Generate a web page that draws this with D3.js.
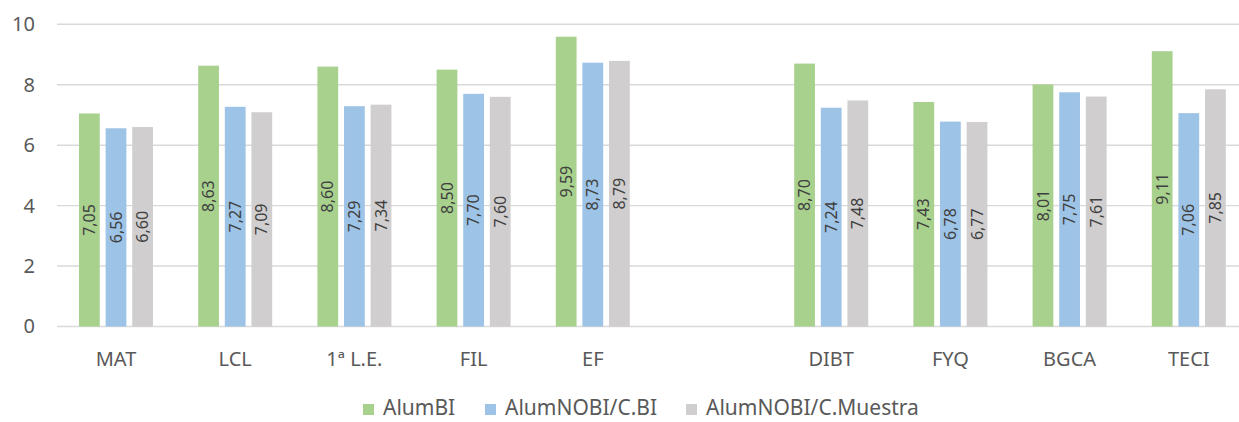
<!DOCTYPE html>
<html>
<head>
<meta charset="utf-8">
<script src="https://cdn.jsdelivr.net/npm/d3@7"></script>
<style>
html,body{margin:0;padding:0;background:#fff;}
svg{display:block;font-family:"Noto Sans","Open Sans",sans-serif;}
</style>
</head>
<body>
<svg id="chart" width="1239" height="422"></svg>
<script>
const categories = ["MAT","LCL","1ª L.E.","FIL","EF","","DIBT","FYQ","BGCA","TECI"];
const seriesNames = ["AlumBI","AlumNOBI/C.BI","AlumNOBI/C.Muestra"];
const alumBI = [7.05,8.63,8.60,8.50,9.59,null,8.70,7.43,8.01,9.11];
const alumNOBI_CBI = [6.56,7.27,7.29,7.70,8.73,null,7.24,6.78,7.75,7.06];
const alumNOBI_CMuestra = [6.60,7.09,7.34,7.60,8.79,null,7.48,6.77,7.61,7.85];
const yTicks = [0,2,4,6,8,10];
const colors = ["#A9D18E","#9DC3E6","#D0CECE"];

const series = [alumBI, alumNOBI_CBI, alumNOBI_CMuestra];
const svg = d3.select("#chart");

const x0 = d3.scaleBand().domain(categories).range([56.4, 1248.4]).paddingInner(0).paddingOuter(0);
const groupW = 74;
const x1 = d3.scaleBand().domain(seriesNames).range([0, groupW]).paddingInner(0.22).paddingOuter(0);
const y = d3.scaleLinear().domain([0,10]).range([326.5, 24.3]);

// gridlines
svg.append("g").selectAll("line").data(yTicks).join("line")
  .attr("x1", 57).attr("x2", 1239)
  .attr("y1", d => y(d)).attr("y2", d => y(d))
  .attr("stroke", "#D9D9D9").attr("stroke-width", 1.4);

// y axis labels
const yAxis = d3.axisLeft(y).tickValues(yTicks).tickSize(0).tickPadding(0).tickFormat(d3.format("d"));
const ya = svg.append("g").attr("transform", "translate(35,0)").call(yAxis);
ya.select(".domain").remove();
ya.selectAll("text").attr("font-size", 20).attr("fill", "#595959")
  .attr("font-family", '"Noto Sans","Open Sans",sans-serif');

// bars
const fmt = v => v.toFixed(2).replace(".", ",");
series.forEach((vals, si) => {
  const g = svg.append("g");
  const data = categories.map((c, i) => ({c, v: vals[i]})).filter(d => d.v != null);
  g.selectAll("rect").data(data).join("rect")
    .attr("x", d => x0(d.c) + (x0.bandwidth() - groupW) / 2 + x1(seriesNames[si]))
    .attr("y", d => y(d.v))
    .attr("width", x1.bandwidth())
    .attr("height", d => y(0) - y(d.v))
    .attr("fill", colors[si]);
  g.selectAll("text").data(data).join("text")
    .attr("transform", d => {
      const cx = x0(d.c) + (x0.bandwidth() - groupW) / 2 + x1(seriesNames[si]) + x1.bandwidth() / 2;
      const cy = (y(d.v) + y(0)) / 2;
      return `translate(${cx},${cy}) rotate(-90)`;
    })
    .attr("text-anchor", "middle").attr("dy", "0.35em")
    .attr("font-size", 16).attr("fill", "#404040")
    .text(d => fmt(d.v));
});

// x axis labels
const xAxis = d3.axisBottom(x0).tickSize(0).tickPadding(0);
const xa = svg.append("g").attr("transform", "translate(0,366)").call(xAxis);
xa.select(".domain").remove();
xa.selectAll("text").attr("dy", 0).attr("font-size", 20).attr("fill", "#595959")
  .attr("font-family", '"Noto Sans","Open Sans",sans-serif');

// legend
const legX = [363, 485, 686];
const leg = svg.append("g");
seriesNames.forEach((n, i) => {
  leg.append("rect").attr("x", legX[i]).attr("y", 404).attr("width", 11).attr("height", 11).attr("fill", colors[i]);
  leg.append("text").attr("x", legX[i] + 20).attr("y", 415).attr("font-size", 21).attr("fill", "#595959").text(n);
});
</script>
</body>
</html>
